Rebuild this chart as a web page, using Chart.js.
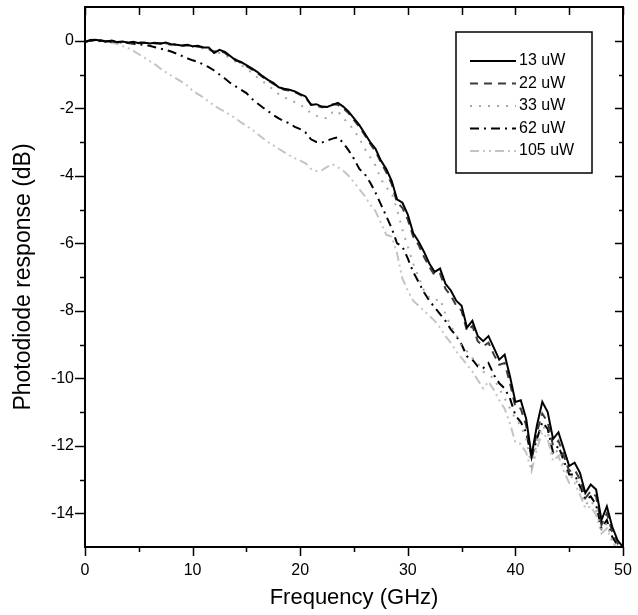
<!DOCTYPE html>
<html>
<head>
<meta charset="utf-8">
<script src="https://cdn.jsdelivr.net/npm/chart.js@4.4.0/dist/chart.umd.min.js"></script>
<style>
  body { margin: 0; background: #fff; }
</style>
</head>
<body>
<canvas id="responseChart" width="638" height="615"></canvas>
<script>
// frequency points (GHz)
var freqGHz = [
    0, 0.5, 1, 1.5, 2, 2.5, 3, 3.5, 4, 4.5,
    5, 5.5, 6, 6.5, 7, 7.5, 8, 8.5, 9, 9.5,
    10, 10.5, 11, 11.5, 12, 12.5, 13, 13.5, 14, 14.5,
    15, 15.5, 16, 16.5, 17, 17.5, 18, 18.5, 19, 19.5,
    20, 20.5, 21, 21.5, 22, 22.5, 23, 23.5, 24, 24.5,
    25, 25.5, 26, 26.5, 27, 27.5, 28, 28.5, 29, 29.5,
    30, 30.5, 31, 31.5, 32, 32.5, 33, 33.5, 34, 34.5,
    35, 35.5, 36, 36.5, 37, 37.5, 38, 38.5, 39, 39.5,
    40, 40.5, 41, 41.5, 42, 42.5, 43, 43.5, 44, 44.5,
    45, 45.5, 46, 46.5, 47, 47.5, 48, 48.5, 49, 49.5,
    50
];

// photodiode response (dB) per optical power
var resp13uW = [
    -0.03, 0.02, 0.03, 0.00, -0.02, 0.01, -0.04, -0.02, -0.06, -0.03,
    -0.07, -0.05, -0.08, -0.06, -0.09, -0.05, -0.10, -0.12, -0.14, -0.12,
    -0.16, -0.15, -0.20, -0.20, -0.36, -0.27, -0.33, -0.45, -0.58, -0.63,
    -0.72, -0.82, -0.92, -1.05, -1.16, -1.25, -1.38, -1.42, -1.45, -1.50,
    -1.58, -1.65, -1.90, -1.88, -1.95, -1.96, -1.90, -1.84, -1.95, -2.10,
    -2.30, -2.50, -2.75, -3.00, -3.20, -3.55, -3.80, -4.15, -4.70, -4.80,
    -5.15, -5.70, -5.95, -6.25, -6.60, -6.85, -6.75, -7.20, -7.40, -7.70,
    -7.85, -8.50, -8.30, -8.75, -8.90, -8.75, -9.10, -9.45, -9.30, -9.95,
    -10.70, -10.65, -11.20, -12.30, -11.40, -10.70, -11.00, -11.80, -11.60, -12.10,
    -12.60, -12.50, -12.80, -13.40, -13.15, -13.30, -14.20, -13.80, -14.40, -14.80,
    -15.00
];
var resp22uW = [
    -0.05, 0.01, 0.00, 0.02, -0.04, -0.01, -0.05, -0.03, -0.05, -0.06,
    -0.05, -0.07, -0.06, -0.08, -0.07, -0.08, -0.12, -0.10, -0.15, -0.14,
    -0.15, -0.18, -0.19, -0.25, -0.32, -0.30, -0.36, -0.48, -0.55, -0.66,
    -0.75, -0.85, -0.95, -1.07, -1.18, -1.28, -1.36, -1.45, -1.48, -1.52,
    -1.60, -1.70, -1.88, -1.92, -1.97, -1.95, -1.88, -1.90, -2.00, -2.15,
    -2.35, -2.55, -2.80, -3.05, -3.28, -3.60, -3.90, -4.25, -4.80, -4.95,
    -5.30, -5.80, -6.05, -6.40, -6.70, -6.95, -6.90, -7.35, -7.55, -7.85,
    -8.00, -8.60, -8.45, -8.90, -9.05, -8.95, -9.30, -9.60, -9.55, -10.15,
    -10.85, -10.90, -11.40, -12.40, -11.60, -11.05, -11.30, -12.00, -11.85, -12.30,
    -12.75, -12.70, -13.00, -13.55, -13.35, -13.50, -14.35, -14.00, -14.55, -14.90,
    -15.00
];
var resp33uW = [
    -0.02, 0.03, 0.01, -0.01, 0.00, -0.03, -0.02, -0.05, -0.04, -0.06,
    -0.05, -0.08, -0.07, -0.08, -0.10, -0.09, -0.11, -0.13, -0.14, -0.16,
    -0.18, -0.20, -0.23, -0.27, -0.33, -0.36, -0.42, -0.52, -0.62, -0.72,
    -0.82, -0.95, -1.08, -1.20, -1.32, -1.45, -1.58, -1.67, -1.75, -1.82,
    -1.90, -2.00, -2.15, -2.22, -2.28, -2.30, -2.12, -2.08, -2.30, -2.45,
    -2.65, -2.90, -3.20, -3.45, -3.70, -4.10, -4.35, -4.50, -5.00, -5.60,
    -6.10, -6.60, -7.00, -7.40, -7.60, -7.70, -7.65, -8.10, -8.45, -8.70,
    -9.05, -9.20, -9.40, -9.55, -9.80, -9.90, -10.00, -10.30, -10.60, -10.90,
    -11.20, -11.40, -11.80, -12.60, -11.90, -11.40, -11.60, -12.30, -12.10, -12.60,
    -12.95, -12.90, -13.30, -13.75, -13.60, -13.90, -14.50, -14.30, -14.80, -15.00,
    -15.10
];
var resp62uW = [
    -0.02, 0.00, 0.02, -0.02, -0.01, -0.04, -0.03, -0.06, -0.07, -0.09,
    -0.10, -0.13, -0.15, -0.19, -0.23, -0.27, -0.32, -0.38, -0.45, -0.52,
    -0.58, -0.63, -0.70, -0.78, -0.88, -1.00, -1.12, -1.25, -1.35, -1.45,
    -1.55, -1.72, -1.85, -1.97, -2.08, -2.20, -2.30, -2.38, -2.45, -2.55,
    -2.62, -2.72, -2.92, -3.00, -3.02, -2.96, -2.90, -2.86, -3.03, -3.25,
    -3.50, -3.80, -3.95, -4.20, -4.50, -4.85, -5.20, -5.55, -6.00, -6.10,
    -6.45, -6.85, -7.15, -7.45, -7.70, -7.90, -8.10, -8.30, -8.55, -8.75,
    -9.00, -9.35, -9.45, -9.65, -9.70, -9.55, -9.90, -10.15, -10.30, -10.60,
    -11.10, -11.30, -11.60, -12.35, -11.80, -11.30, -11.50, -12.20, -12.00, -12.45,
    -12.85, -12.85, -13.20, -13.60, -13.50, -13.75, -14.45, -14.20, -14.70, -14.95,
    -15.05
];
var resp105uW = [
    -0.03, 0.01, 0.00, -0.02, -0.03, -0.06, -0.10, -0.16, -0.22, -0.30,
    -0.40, -0.50, -0.60, -0.70, -0.82, -0.93, -1.03, -1.12, -1.22, -1.33,
    -1.48, -1.58, -1.68, -1.80, -1.92, -2.02, -2.10, -2.20, -2.30, -2.42,
    -2.52, -2.63, -2.75, -2.88, -3.00, -3.10, -3.20, -3.30, -3.40, -3.48,
    -3.55, -3.63, -3.80, -3.86, -3.84, -3.74, -3.66, -3.75, -3.85, -4.00,
    -4.20, -4.40, -4.60, -4.85, -5.05, -5.40, -5.75, -5.80, -6.30, -7.05,
    -7.40, -7.70, -7.85, -8.00, -8.15, -8.30, -8.50, -8.75, -8.95, -9.20,
    -9.40, -9.60, -9.80, -10.05, -10.30, -10.10, -10.35, -10.65, -10.90, -11.35,
    -11.90, -11.95, -12.20, -12.75, -12.10, -11.60, -11.80, -12.45, -12.30, -12.75,
    -13.10, -13.10, -13.45, -13.85, -13.80, -14.05, -14.60, -14.45, -14.85, -15.05,
    -15.15
];

var seriesLabels = ['13 uW', '22 uW', '33 uW', '62 uW', '105 uW'];

// tick values
var xMajorTicks = [0, 10, 20, 30, 40, 50];
var xMinorTicks = [5, 15, 25, 35, 45];
var yMajorTicks = [0, -2, -4, -6, -8, -10, -12, -14];
var yMinorTicks = [-1, -3, -5, -7, -9, -11, -13];

var fontFamily = "Arial, 'Liberation Sans', sans-serif";

function toPoints(vals) {
    return freqGHz.map((f, i) => ({ x: f, y: vals[i] }));
}

// Draws the box frame and the tick marks (outward on left/bottom, inward on top/right)
var frameTicks = {
    id: 'frameTicks',
    afterDatasetsDraw(chart) {
        var ctx = chart.ctx;
        var a = chart.chartArea;
        var xs = chart.scales.x, ys = chart.scales.y;
        ctx.save();
        ctx.strokeStyle = '#000';
        ctx.lineWidth = 2;
        ctx.strokeRect(a.left, a.top, a.right - a.left, a.bottom - a.top);

        ctx.lineWidth = 1.5;
        ctx.beginPath();
        xMajorTicks.concat(xMinorTicks).forEach(function (v) {
            var px = Math.round(xs.getPixelForValue(v)) + 0.5;
            var len = xMajorTicks.indexOf(v) >= 0 ? 9 : 5;
            ctx.moveTo(px, a.bottom);
            ctx.lineTo(px, a.bottom + len);
            ctx.moveTo(px, a.top);
            ctx.lineTo(px, a.top + 8);
        });
        yMajorTicks.concat(yMinorTicks).forEach(function (v) {
            var py = Math.round(ys.getPixelForValue(v)) + 0.5;
            var major = yMajorTicks.indexOf(v) >= 0;
            ctx.moveTo(a.left, py);
            ctx.lineTo(a.left - (major ? 10 : 5), py);
            ctx.moveTo(a.right, py);
            ctx.lineTo(a.right - (major ? 8 : 4), py);
        });
        ctx.stroke();
        ctx.restore();
    }
};

// Boxed legend in the upper right corner
var boxLegend = {
    id: 'boxLegend',
    afterDraw(chart) {
        var ctx = chart.ctx;
        var left = 456, top = 32, width = 136, height = 141;
        ctx.save();
        ctx.strokeStyle = '#000';
        ctx.lineWidth = 1.5;
        ctx.strokeRect(left, top, width, height);
        ctx.font = '16px ' + fontFamily;
        ctx.textBaseline = 'middle';
        ctx.textAlign = 'left';
        chart.data.datasets.forEach(function (ds, i) {
            var y = top + 29 + i * 22.5;
            ctx.beginPath();
            ctx.strokeStyle = ds.borderColor;
            ctx.lineWidth = ds.borderWidth;
            ctx.setLineDash(ds.borderDash || []);
            ctx.moveTo(470, y);
            ctx.lineTo(516, y);
            ctx.stroke();
            ctx.setLineDash([]);
            ctx.fillStyle = '#000';
            ctx.fillText(ds.label, 519, y);
        });
        ctx.restore();
    }
};

var ctx = document.getElementById('responseChart').getContext('2d');

var responseChart = new Chart(ctx, {
    type: 'line',
    data: {
        datasets: [
            {
                label: seriesLabels[0],
                data: toPoints(resp13uW),
                borderColor: '#000000',
                borderWidth: 2,
                borderDash: []
            },
            {
                label: seriesLabels[1],
                data: toPoints(resp22uW),
                borderColor: '#3c3c3c',
                borderWidth: 2,
                borderDash: [8, 6]
            },
            {
                label: seriesLabels[2],
                data: toPoints(resp33uW),
                borderColor: '#a8a8a8',
                borderWidth: 2,
                borderDash: [2, 7]
            },
            {
                label: seriesLabels[3],
                data: toPoints(resp62uW),
                borderColor: '#000000',
                borderWidth: 2,
                borderDash: [9, 5, 2, 5]
            },
            {
                label: seriesLabels[4],
                data: toPoints(resp105uW),
                borderColor: '#c4c4c4',
                borderWidth: 2,
                borderDash: [9, 4, 2, 4, 2, 4]
            }
        ]
    },
    options: {
        responsive: false,
        animation: false,
        layout: {
            padding: { top: 7, right: 15, left: 0, bottom: 0 }
        },
        elements: {
            point: { radius: 0 },
            line: { tension: 0, fill: false }
        },
        scales: {
            x: {
                type: 'linear',
                min: 0,
                max: 50,
                afterBuildTicks: function (scale) {
                    scale.ticks = xMajorTicks.map(v => ({ value: v }));
                },
                afterFit: function (scale) {
                    scale.height = 68;
                    scale.paddingLeft = 0;
                    scale.paddingRight = 0;
                },
                grid: { display: false, drawTicks: false },
                border: { display: false },
                ticks: {
                    padding: 14,
                    color: '#000',
                    maxRotation: 0,
                    font: { family: fontFamily, size: 16 }
                },
                title: {
                    display: true,
                    text: 'Frequency (GHz)',
                    color: '#000',
                    font: { family: fontFamily, size: 22 },
                    padding: { top: 0, bottom: 4 }
                }
            },
            y: {
                type: 'linear',
                min: -15,
                max: 1,
                afterBuildTicks: function (scale) {
                    scale.ticks = yMajorTicks.map(v => ({ value: v }));
                },
                afterFit: function (scale) {
                    scale.width = 85;
                    scale.paddingTop = 0;
                    scale.paddingBottom = 0;
                },
                grid: { display: false, drawTicks: false },
                border: { display: false },
                ticks: {
                    padding: 11,
                    color: '#000',
                    font: { family: fontFamily, size: 16 }
                },
                title: {
                    display: true,
                    text: 'Photodiode response (dB)',
                    color: '#000',
                    font: { family: fontFamily, size: 23 },
                    padding: { top: 10, bottom: 0 }
                }
            }
        },
        plugins: {
            legend: { display: false },
            tooltip: { enabled: false }
        }
    },
    plugins: [frameTicks, boxLegend]
});
</script>
</body>
</html>
